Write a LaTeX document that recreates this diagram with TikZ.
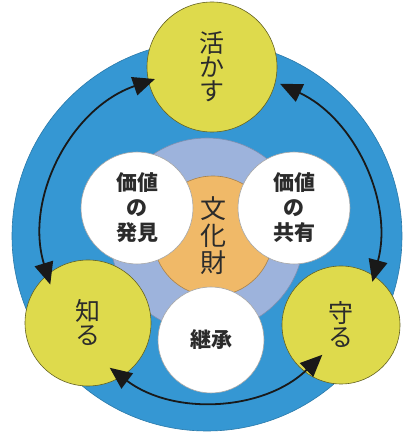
\documentclass[tikz,border=0pt]{standalone}
\usepackage{fontspec}
\setmainfont{Noto Sans CJK JP}
\usetikzlibrary{arrows.meta,calc}
\definecolor{outerblue}{HTML}{3597D3}
\definecolor{periw}{HTML}{9DB3DC}
\definecolor{orng}{HTML}{F0B968}
\definecolor{ylw}{HTML}{DEDA4C}
\definecolor{txt}{HTML}{2B2B2B}
\tikzset{
  disc/.style={circle,inner sep=0pt,draw=black!45,line width=0.6pt,align=center,text=txt},
  yellowdisc/.style={disc,fill=ylw,draw=black!55!ylw,font=\fontsize{25}{24}\selectfont},
  whitedisc/.style={disc,fill=white,draw=black!35,font=\bfseries\fontsize{21}{25}\selectfont},
  cyclearrow/.style={line width=1.8pt,black!90,{Triangle[length=22pt,width=19pt]}-{Triangle[length=22pt,width=19pt]}}
}
\begin{document}
\begin{tikzpicture}[x=1pt,y=1pt]
\useasboundingbox (0,0) rectangle (403,437);
\fill[white] (0,0) rectangle (403,437);
% outer blue disc
\node[disc,fill=outerblue,draw=outerblue!80!black,minimum size=390pt] (outer) at (207,201) {};
% periwinkle disc
\node[disc,fill=periw,draw=periw!80!black,minimum size=194pt] (mid) at (207,202) {};
% orange core
\node[disc,fill=orng,draw=orng!70!black,minimum size=120pt,font=\fontsize{26}{27}\selectfont] (core) at (213,201) {文\\化\\財};
% white discs
\node[whitedisc,minimum size=112pt] (discover) at (137,229) {価値\\の\\発見};
\node[whitedisc,minimum size=112pt] (share) at (294,229) {価値\\の\\共有};
\node[whitedisc,minimum size=106pt] (inherit) at (211,97) {継承};
% yellow discs
\node[yellowdisc,minimum size=130pt] (use) at (212,370) {活\\か\\す};
\node[yellowdisc,minimum size=126pt] (know) at (88,114) {知\\る};
\node[yellowdisc,minimum size=118pt] (protect) at (341,112) {守\\る};
% cycle arrows
\coordinate (C) at (209,201);
\coordinate (a1) at ($(C)+(109:166)$);
\coordinate (a2) at ($(C)+(65:168)$);
\coordinate (b2) at ($(C)+(-15:170)$);
\coordinate (c2) at ($(C)+(-46:160)$);
\coordinate (c1) at ($(C)+(233:165)$);
\coordinate (b1) at ($(C)+(197:164)$);
\draw[cyclearrow] (a1) arc[start angle=109,end angle=197,radius=166];
\draw[cyclearrow] (a2) arc[start angle=65,end angle=-15,radius=170];
\draw[cyclearrow] (c1) arc[start angle=233,end angle=314,radius=164];
\end{tikzpicture}
\end{document}
